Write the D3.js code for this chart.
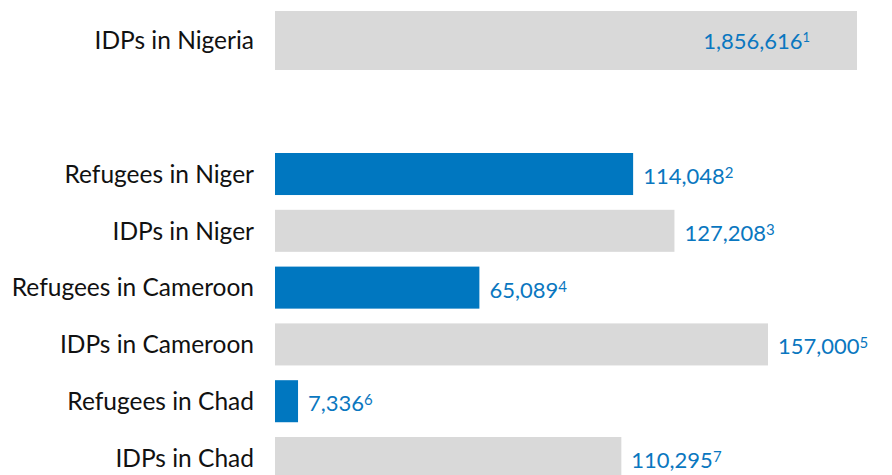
<!DOCTYPE html>
<html><head><meta charset="utf-8">
<script src="https://cdn.jsdelivr.net/npm/d3@7"></script>
<style>
html,body{margin:0;padding:0;background:#fff;}
svg{display:block;font-family:Lato, "Open Sans", sans-serif;}
</style></head>
<body>
<svg id="chart" width="892" height="475"></svg>
<script>
// Data
const topCategory = ["IDPs in Nigeria"];
const topValue = [1856616];
const topNote = ["1"];
const categories = ["Refugees in Niger","IDPs in Niger","Refugees in Cameroon","IDPs in Cameroon","Refugees in Chad","IDPs in Chad"];
const values = [114048,127208,65089,157000,7336,110295];
const notes = ["2","3","4","5","6","7"];
const types = ["refugees","idps","refugees","idps","refugees","idps"];

const BLUE = "#0077c0", GRAY = "#d9d9d9", LABEL_BLUE = "#0a77c0";
const svg = d3.select("#chart");
const fmt = d3.format(",");
const x0 = 275;

// Top (broken-scale) bar
const xTop = d3.scaleLinear().domain([0, 1856616]).range([x0, 857]);
const yTop = d3.scaleBand().domain(topCategory).range([11, 70]).padding(0);
// Lower bars
const x = d3.scaleLinear().domain([0, 157000]).range([x0, 768]);
const step = 56.8;
const y = d3.scaleBand().domain(categories)
  .range([153 - 0.13*step, 153 - 0.13*step + 6*step])
  .paddingInner(0.26).paddingOuter(0.13);

// Top bar
svg.append("g").selectAll("rect").data(topCategory).join("rect")
  .attr("x", x0).attr("y", d => yTop(d))
  .attr("width", (d,i) => xTop(topValue[i]) - x0)
  .attr("height", yTop.bandwidth()).attr("fill", GRAY);

// Category labels via axes
const axTop = svg.append("g").attr("transform", `translate(${x0 - 21},0)`)
  .call(d3.axisLeft(yTop).tickSize(0).tickPadding(0));
const axLow = svg.append("g").attr("transform", `translate(${x0 - 21},0)`)
  .call(d3.axisLeft(y).tickSize(0).tickPadding(0));
[axTop, axLow].forEach(a => {
  a.select(".domain").remove();
  a.selectAll("text").attr("font-family", "Lato, 'Open Sans', sans-serif")
    .attr("font-size", 24.5).attr("fill", "#111").attr("dy", "0.36em");
});

const tv = svg.append("g").selectAll("text").data(topCategory).join("text")
  .attr("x", (d,i) => xTop(topValue[i]) - 47)
  .attr("y", d => yTop(d) + yTop.bandwidth()/2)
  .attr("dy", "0.38em").attr("text-anchor", "end")
  .attr("font-size", 22).attr("fill", LABEL_BLUE);
tv.append("tspan").text((d,i) => fmt(topValue[i]));
tv.append("tspan").attr("font-size", 13).attr("dy", -7).text((d,i) => topNote[i]);

// Lower bars
svg.append("g").selectAll("rect").data(categories).join("rect")
  .attr("x", x0).attr("y", d => y(d))
  .attr("width", (d,i) => x(values[i]) - x0)
  .attr("height", y.bandwidth())
  .attr("fill", (d,i) => types[i] === "refugees" ? BLUE : GRAY);

const lv = svg.append("g").selectAll("text").data(categories).join("text")
  .attr("x", (d,i) => x(values[i]) + 10)
  .attr("y", d => y(d) + y.bandwidth()/2)
  .attr("dy", "0.45em")
  .attr("font-size", 22).attr("fill", LABEL_BLUE);
lv.append("tspan").text((d,i) => fmt(values[i]));
lv.append("tspan").attr("font-size", 15).attr("dy", -6).text((d,i) => notes[i]);
</script>
</body></html>
